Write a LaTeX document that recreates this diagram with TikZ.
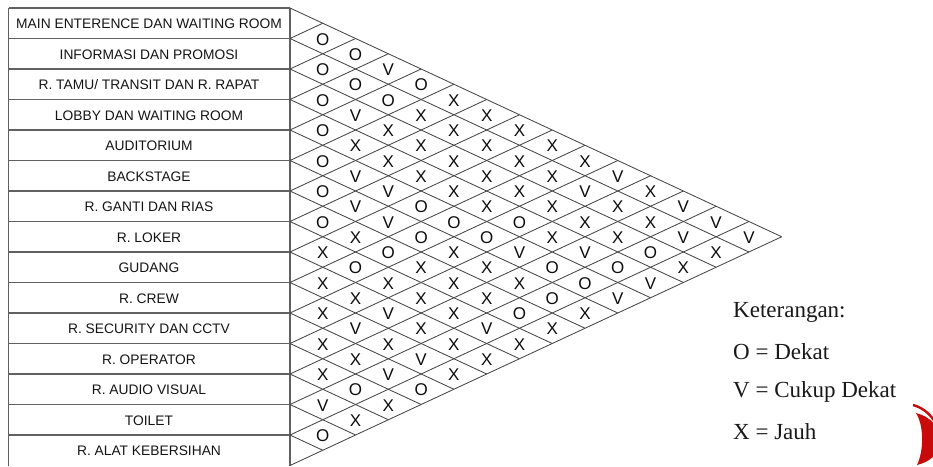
\documentclass[tikz,border=0pt]{standalone}
\usepackage{fontspec}
\setmainfont{Liberation Serif}
\newfontfamily\arialf{Liberation Sans}
\definecolor{logored}{RGB}{200,10,10}
\begin{document}
\begin{tikzpicture}[x=1pt,y=-1pt,
  gridline/.style={draw=black!72, line width=0.85pt},
  tabline/.style={draw=black!62, line width=1.15pt},
  rowlabel/.style={font=\arialf\fontsize{13.8}{14}\selectfont, text=black!92, inner sep=0pt},
  cell/.style={font=\arialf\fontsize{17}{18}\selectfont, text=black!95, inner sep=0pt},
  legend/.style={font=\fontsize{23}{25}\selectfont, anchor=west, inner sep=0pt, text=black!90}]
\useasboundingbox (0,0) rectangle (933,466);
% table
\draw[tabline] (8.7,8) -- (8.7,466);
\draw[tabline] (290,8) -- (290,466);
\foreach \k in {0,...,14} \draw[tabline] (8.7,{8+30.5*\k}) -- (290,{8+30.5*\k});
\foreach \t [count=\k] in {MAIN ENTERENCE DAN WAITING ROOM, INFORMASI DAN PROMOSI, R. TAMU/ TRANSIT DAN R. RAPAT, LOBBY DAN WAITING ROOM, AUDITORIUM, BACKSTAGE, R. GANTI DAN RIAS, R. LOKER, GUDANG, R. CREW, R. SECURITY DAN CCTV, R. OPERATOR, R. AUDIO VISUAL, TOILET, R. ALAT KEBERSIHAN}
  \node[rowlabel] (lab\k) at (149,{8.5+30.5*(\k-0.5)}) {\t};
% diamond grid
\foreach \k in {0,...,15} {
  \draw[gridline] (290,{8+30.5*\k}) -- ++({(15-\k)*32.78},{(15-\k)*15.25});
  \draw[gridline] (290,{8+30.5*\k}) -- ++({\k*32.78},{-\k*15.25});
}
% cells: m/d/letter
\foreach \m/\d/\l in {
 2/1/O, 3/2/O, 4/1/O, 4/3/V, 5/2/O, 5/4/O,
 6/1/O, 6/3/O, 6/5/X, 7/2/V, 7/4/X, 7/6/X,
 8/1/O, 8/3/X, 8/5/X, 8/7/X, 9/2/X, 9/4/X, 9/6/X, 9/8/X,
 10/1/O, 10/3/X, 10/5/X, 10/7/X, 10/9/X,
 11/2/V, 11/4/X, 11/6/X, 11/8/X, 11/10/V,
 12/1/O, 12/3/V, 12/5/X, 12/7/X, 12/9/V, 12/11/X,
 13/2/V, 13/4/O, 13/6/X, 13/8/X, 13/10/X, 13/12/V,
 14/1/O, 14/3/V, 14/5/O, 14/7/O, 14/9/X, 14/11/X, 14/13/V,
 15/2/X, 15/4/O, 15/6/O, 15/8/X, 15/10/X, 15/12/V, 15/14/V,
 16/1/X, 16/3/O, 16/5/X, 16/7/V, 16/9/V, 16/11/O, 16/13/X,
 17/2/O, 17/4/X, 17/6/X, 17/8/O, 17/10/O, 17/12/X,
 18/1/X, 18/3/X, 18/5/X, 18/7/X, 18/9/O, 18/11/V,
 19/2/X, 19/4/X, 19/6/X, 19/8/O, 19/10/V,
 20/1/X, 20/3/V, 20/5/X, 20/7/O, 20/9/X,
 21/2/V, 21/4/X, 21/6/V, 21/8/X,
 22/1/X, 22/3/X, 22/5/X, 22/7/X,
 23/2/X, 23/4/V, 23/6/X,
 24/1/X, 24/3/V, 24/5/X,
 25/2/O, 25/4/O, 26/1/V, 26/3/X, 27/2/X, 28/1/O}
  \node[cell] (c\m-\d) at ({290+\d*32.78},{8.8+\m*15.25}) {\l};
% legend
\node[legend] (leg0) at (733,312) {Keterangan:};
\node[legend] (leg1) at (733,352) {O = Dekat};
\node[legend] (leg2) at (733,392) {V = Cukup Dekat};
\node[legend] (leg3) at (733,432) {X = Jauh};
% logo fragment
\begin{scope}
\clip (0,0) rectangle (933,466);
\fill[logored] (916,413) .. controls (945,420) and (952,456) .. (917,465) .. controls (924,450) and (924,426) .. cycle;
\draw[logored, line width=2.4pt] (913,405) .. controls (936,411) and (948,440) .. (944,470);
\end{scope}
\end{tikzpicture}
\end{document}
